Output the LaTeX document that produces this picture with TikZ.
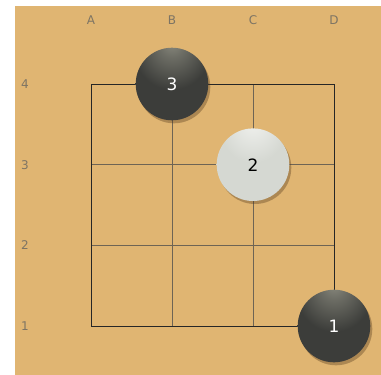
\documentclass[tikz,border=0pt]{standalone}
\usepackage{fontspec}
\setmainfont{DejaVu Sans}
\usetikzlibrary{positioning,shadows}
\definecolor{wood}{RGB}{224,181,114}
\definecolor{stoneblack}{RGB}{60,61,58}
\definecolor{blackhi}{RGB}{140,140,128}
\definecolor{stonewhite}{RGB}{213,216,210}
\definecolor{whitehi}{RGB}{240,241,238}
\definecolor{coordgray}{RGB}{125,116,100}
\definecolor{gridgray}{RGB}{110,100,84}
\pgfdeclareradialshading{blackglow}{\pgfpoint{0bp}{30bp}}{%
  color(0bp)=(blackhi); color(9bp)=(blackhi!60!stoneblack);
  color(26bp)=(stoneblack); color(100bp)=(stoneblack)}
\pgfdeclareradialshading{whiteglow}{\pgfpoint{0bp}{30bp}}{%
  color(0bp)=(whitehi); color(22bp)=(stonewhite); color(100bp)=(stonewhite)}

\begin{document}
\begin{tikzpicture}[
  x=1pt, y=-1pt,
  coord/.style={font=\fontsize{12}{12}\selectfont, text=coordgray},
  stone/.style={circle, minimum size=72.6pt, inner sep=0pt,
                font=\fontsize{17}{17}\selectfont,
                drop shadow={shadow xshift=2pt, shadow yshift=-3pt,
                             fill=black!60!brown, opacity=0.35}},
  blackstone/.style={stone, shading=blackglow, text=white},
  whitestone/.style={stone, shading=whiteglow, text=black},
  inner/.style={draw=gridgray, line width=0.8pt},
  outer/.style={draw=black!85, line width=1pt},
]
  \useasboundingbox (0,0) rectangle (381,375);
  %=================== board ===================
  \fill[wood] (15,6) rectangle (381,375);
  \foreach \i in {1,2} {
    \draw[inner] ({91+81*\i},84) -- ({91+81*\i},326);
    \draw[inner] (91,{84+80.67*\i}) -- (334,{84+80.67*\i});
  }
  \draw[outer] (91,84) rectangle (334,326);

  %=================== coordinates ===================
  \foreach \c [count=\i from 0] in {A,B,C,D}
    \node[coord] (col\c) at ({91+81*\i},20) {\c};
  \foreach \r in {1,...,4}
    \node[coord] (row\r) at (25,{84+80.67*(4-\r)}) {\r};

  %=================== stones ===================
  \node[blackstone] (s3) at (172,84) {3};
  \node[whitestone] (s2) at (253,164.7) {2};
  \node[blackstone] (s1) at (334,326) {1};
\end{tikzpicture}
\end{document}
